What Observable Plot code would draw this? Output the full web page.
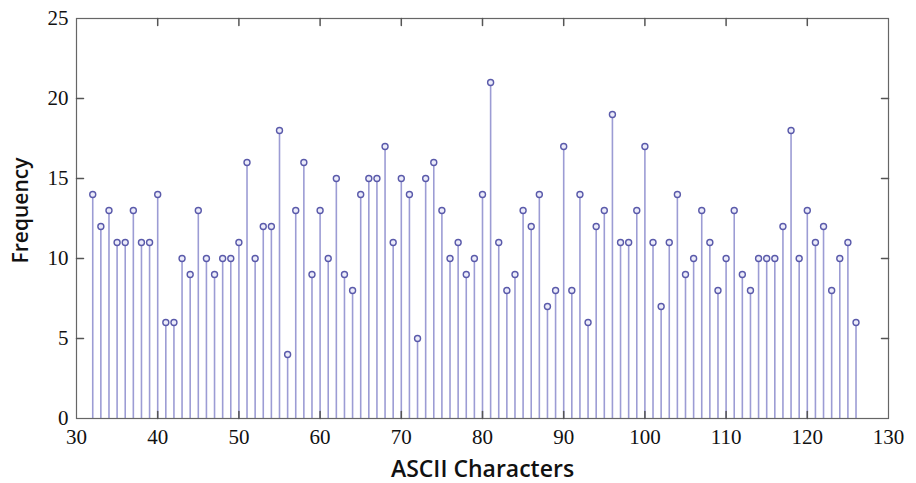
<!DOCTYPE html>
<html>
<head>
<meta charset="utf-8">
<script src="https://cdn.jsdelivr.net/npm/d3@7"></script>
<script src="https://cdn.jsdelivr.net/npm/@observablehq/plot@0.6"></script>
<style>
  html, body { margin: 0; padding: 0; background: #fff; }
</style>
</head>
<body>
<div id="chart"></div>
<script>
const codes = d3.range(32, 127);
const frequencies = [
  14, 12, 13, 11, 11, 13, 11, 11, 14, 6,
  6, 10, 9, 13, 10, 9, 10, 10, 11, 16,
  10, 12, 12, 18, 4, 13, 16, 9, 13, 10,
  15, 9, 8, 14, 15, 15, 17, 11, 15, 14,
  5, 15, 16, 13, 10, 11, 9, 10, 14, 21,
  11, 8, 9, 13, 12, 14, 7, 8, 17, 8,
  14, 6, 12, 13, 19, 11, 11, 13, 17, 11,
  7, 11, 14, 9, 10, 13, 11, 8, 10, 13,
  9, 8, 10, 10, 10, 12, 18, 10, 13, 11,
  12, 8, 10, 11, 6
];
const xTicks = [30, 40, 50, 60, 70, 80, 90, 100, 110, 120, 130];
const yTicks = [0, 5, 10, 15, 20, 25];
const xLabel = "ASCII Characters";
const yLabel = "Frequency";

const data = codes.map((c, i) => ({code: c, freq: frequencies[i]}));

const line = {draw(ctx, l) { ctx.moveTo(0, 0); ctx.lineTo(0, -l); }};
const tickColor = "#555";

const chart = Plot.plot({
  width: 916,
  height: 483,
  marginLeft: 76,
  marginRight: 28,
  marginTop: 18,
  marginBottom: 65,
  style: {fontFamily: "'Liberation Serif', serif", fontSize: "21px", color: "#111", background: "#fff"},
  x: {domain: [30, 130]},
  y: {domain: [0, 25]},
  marks: [
    Plot.ruleX(data, {x: "code", y1: 0, y2: "freq", stroke: "#9c9cd4", strokeWidth: 1.6}),
    Plot.dot(data, {x: "code", y: "freq", r: 3, fill: "#ececfa", stroke: "#5a5aaa", strokeWidth: 1.4}),
    Plot.frame({stroke: "#666", strokeWidth: 1.2}),
    Plot.vector(xTicks.slice(1, -1), {x: d => d, frameAnchor: "bottom", anchor: "start", length: 7, rotate: 0, shape: line, stroke: tickColor}),
    Plot.vector(xTicks.slice(1, -1), {x: d => d, frameAnchor: "top", anchor: "start", length: 7, rotate: 180, shape: line, stroke: tickColor}),
    Plot.vector(yTicks.slice(1, -1), {y: d => d, frameAnchor: "left", anchor: "start", length: 7, rotate: 90, shape: line, stroke: tickColor}),
    Plot.vector(yTicks.slice(1, -1), {y: d => d, frameAnchor: "right", anchor: "start", length: 7, rotate: -90, shape: line, stroke: tickColor}),
    Plot.axisX(xTicks, {anchor: "bottom", tickSize: 0, tickPadding: 11, label: null, fill: "#111", fontSize: 21}),
    Plot.axisY(yTicks, {anchor: "left", tickSize: 0, tickPadding: 8, label: null, fill: "#111", fontSize: 21}),
    Plot.text([xLabel], {frameAnchor: "bottom", textAnchor: "middle", lineAnchor: "bottom", dy: 58, text: d => d, fontFamily: "'Open Sans', sans-serif", fontWeight: 600, fontSize: 23, fill: "#111"}),
    Plot.text([yLabel], {frameAnchor: "left", textAnchor: "middle", lineAnchor: "bottom", dx: -49, dy: -8, rotate: -90, text: d => d, fontFamily: "'Open Sans', sans-serif", fontWeight: 600, fontSize: 21, fill: "#111"})
  ]
});
document.getElementById("chart").appendChild(chart);
</script>
</body>
</html>
